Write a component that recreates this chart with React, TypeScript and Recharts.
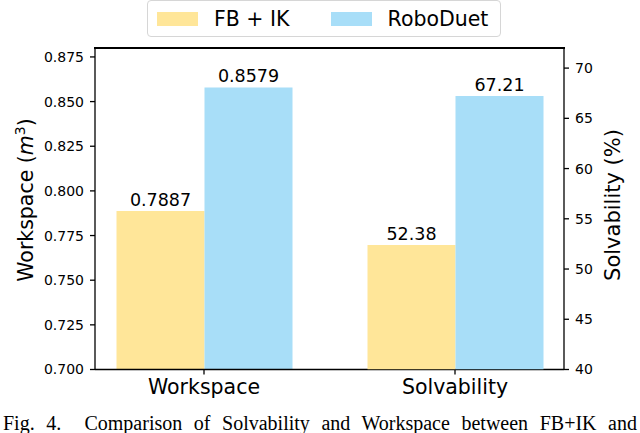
import { BarChart, Bar, XAxis, YAxis, LabelList, Label } from "recharts";

const categories = ["Workspace", "Solvability"];
const seriesNames = ["FB + IK", "RoboDuet"];
const seriesColors = ["#ffe699", "#a8def8"];
const workspaceValues = [0.7887, 0.8579];
const solvabilityValues = [52.38, 67.21];
const leftDomain = [0.7, 0.88];
const rightDomain = [40, 72];
const leftTicks = [0.7, 0.725, 0.75, 0.775, 0.8, 0.825, 0.85, 0.875];
const rightTicks = [40, 45, 50, 55, 60, 65, 70];
const caption = "Fig. 4.\u00a0\u00a0Comparison of Solvability and Workspace between FB+IK and";

const workspaceData = categories.map((name, i) => ({
  name,
  fb: i === 0 ? workspaceValues[0] : undefined,
  robo: i === 0 ? workspaceValues[1] : undefined,
}));
const solvabilityData = categories.map((name, i) => ({
  name,
  fb: i === 1 ? solvabilityValues[0] : undefined,
  robo: i === 1 ? solvabilityValues[1] : undefined,
}));

const W = 640;
const H = 433;
const FONT = "DejaVu Sans, sans-serif";
const M = { top: 48, left: 95, right: 76, bottom: 63.5 };
const PAD = { left: -16.5, right: -16.5 };
const axisStroke = { stroke: "#000", strokeWidth: 1.3 };

const LeftTitle = (props: any) => {
  const { viewBox } = props;
  const x = viewBox.x + 33;
  const y = 200;
  return (
    <text x={x} y={y} transform={`rotate(-90 ${x} ${y})`} textAnchor="middle" fontFamily={FONT} fontSize={20.5} fill="#000">
      Workspace (<tspan fontStyle="italic">m</tspan>
      <tspan dy={-8} fontSize={14}>3</tspan>
      <tspan dy={8}>)</tspan>
    </text>
  );
};

const RightTitle = (props: any) => {
  const { viewBox } = props;
  const x = viewBox.x + 56;
  const y = 205;
  return (
    <text x={x} y={y} transform={`rotate(-90 ${x} ${y})`} textAnchor="middle" fontFamily={FONT} fontSize={21} fill="#000">
      Solvability (%)
    </text>
  );
};

const labelStyle = { fontFamily: FONT, fontSize: 17.5, fill: "#000" };

const App = () => {
  return (
    <div style={{ position: "absolute", left: 0, top: 0, width: W, height: H, background: "#fff", overflow: "hidden" }}>
      <div style={{ position: "absolute", left: 0, top: 0 }}>
        <BarChart width={W} height={H} data={workspaceData} margin={{ top: M.top, right: 0, bottom: 0, left: 0 }} barGap={0}>
          <XAxis
            dataKey="name"
            height={M.bottom}
            padding={PAD}
            tickSize={5}
            tickMargin={5}
            axisLine={axisStroke}
            tickLine={axisStroke}
            tick={{ fontFamily: FONT, fontSize: 20.5, fill: "#000" }}
          />
          <YAxis
            yAxisId="l"
            width={M.left}
            domain={leftDomain}
            ticks={leftTicks}
            allowDataOverflow
            tickFormatter={(v: number) => v.toFixed(3)}
            tickSize={5}
            tickMargin={6}
            axisLine={axisStroke}
            tickLine={axisStroke}
            tick={{ fontFamily: FONT, fontSize: 14, fill: "#000" }}
          >
            <Label content={LeftTitle} />
          </YAxis>
          <YAxis
            yAxisId="r"
            orientation="right"
            width={M.right}
            domain={rightDomain}
            ticks={rightTicks}
            allowDataOverflow
            tickSize={5}
            tickMargin={6}
            axisLine={axisStroke}
            tickLine={axisStroke}
            tick={{ fontFamily: FONT, fontSize: 14, fill: "#000" }}
          >
            <Label content={RightTitle} />
          </YAxis>
          <Bar dataKey="fb" yAxisId="l" fill={seriesColors[0]} barSize={88} isAnimationActive={false}>
            <LabelList dataKey="fb" position="top" offset={5} style={labelStyle} />
          </Bar>
          <Bar dataKey="robo" yAxisId="l" fill={seriesColors[1]} barSize={88} isAnimationActive={false}>
            <LabelList dataKey="robo" position="top" offset={5} style={labelStyle} />
          </Bar>
        </BarChart>
      </div>
      <div style={{ position: "absolute", left: 0, top: 0, pointerEvents: "none" }}>
        <BarChart width={W} height={H} data={solvabilityData} margin={M} barGap={0}>
          <XAxis dataKey="name" hide padding={PAD} />
          <YAxis yAxisId="r" hide domain={rightDomain} allowDataOverflow />
          <Bar dataKey="fb" yAxisId="r" fill={seriesColors[0]} barSize={88} isAnimationActive={false}>
            <LabelList dataKey="fb" position="top" offset={5} style={labelStyle} />
          </Bar>
          <Bar dataKey="robo" yAxisId="r" fill={seriesColors[1]} barSize={88} isAnimationActive={false}>
            <LabelList dataKey="robo" position="top" offset={5} style={labelStyle} />
          </Bar>
        </BarChart>
      </div>
      {/* top spine of the axes frame */}
      <div
        style={{
          position: "absolute",
          left: M.left - 0.65,
          top: M.top - 0.65,
          width: W - M.left - M.right + 1.3,
          height: 1.3,
          background: "#000",
        }}
      />
      <div
        style={{
          position: "absolute",
          left: 147,
          top: 0,
          width: 354,
          height: 37,
          boxSizing: "border-box",
          border: "1px solid #d6d6d6",
          borderRadius: 4,
          background: "#fff",
          display: "flex",
          alignItems: "center",
          paddingLeft: 9,
          fontFamily: FONT,
          fontSize: 20.5,
          color: "#000",
        }}
      >
        {seriesNames.map((n, i) => (
          <div key={n} style={{ display: "flex", alignItems: "center", marginRight: i === 0 ? 41 : 0 }}>
            <div style={{ width: 41, height: 14, background: seriesColors[i], marginRight: 16 }} />
            <span style={{ lineHeight: "20px" }}>{n}</span>
          </div>
        ))}
      </div>
      <div
        style={{
          position: "absolute",
          left: 3,
          right: 3,
          top: 413,
          fontFamily: "Liberation Serif, serif",
          fontSize: 20,
          lineHeight: "20px",
          textAlign: "justify",
          textAlignLast: "justify",
          color: "#000",
        }}
      >
        {caption}
      </div>
    </div>
  );
};

export default App;
